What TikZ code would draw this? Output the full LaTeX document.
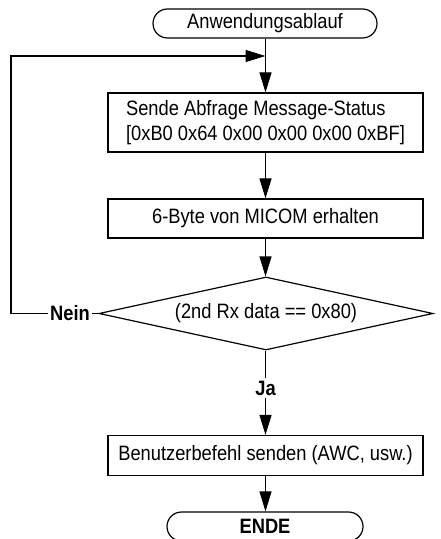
\documentclass[tikz,border=0pt]{standalone}
\usepackage{fontspec}
\setmainfont{Liberation Sans}[FakeStretch=0.88]
\usetikzlibrary{arrows.meta,shapes.geometric,shapes.misc}

\begin{document}
\begin{tikzpicture}[x=0.5pt,y=-0.5pt,line width=0.6pt,
    font=\fontsize{10.4}{12.5}\selectfont,
    term/.style={draw,rounded rectangle,minimum height=14.5pt,inner sep=0pt},
    proc/.style={draw,rectangle,minimum width=157.5pt,inner sep=0pt},
    dec/.style={draw,diamond,aspect=4.58,minimum width=167pt,minimum height=36.5pt,inner sep=0pt},
    lbl/.style={font=\fontsize{10.4}{12.5}\selectfont\bfseries,inner sep=1pt},
    flow/.style={-{Triangle[length=10pt,width=6pt]}}]
    \useasboundingbox (0,0) rectangle (440,539);

    \node[term,minimum width=112pt] (start) at (265,23.5) {Anwendungsablauf};
    \node[proc,minimum height=29.5pt,align=left] (query) at (265.5,122.5)
      {Sende Abfrage Message-Status\\{}[0xB0 0x64 0x00 0x00 0x00 0xBF]};
    \node[proc,minimum height=19.5pt] (recv) at (265.5,218.5) {6-Byte von MICOM erhalten};
    \node[dec] (check) at (266,313.5) {(2nd Rx data == 0x80)};
    \node[lbl] (nein) at (70,313.5) {Nein};
    \node[lbl] (ja) at (265.5,388) {Ja};
    \node[proc,minimum height=20pt] (send) at (265.5,455.5) {Benutzerbefehl senden (AWC, usw.)};
    \node[term,minimum width=98pt,font=\fontsize{10.4}{12.5}\selectfont\bfseries] (stop) at (265,526.5) {ENDE};

    \coordinate (merge) at (265.5,56);
    \coordinate (corner) at (11,56);

    \draw[flow] (start.south -| query.north) -- (query.north);
    \draw[flow] (query) -- (recv);
    \draw[flow] (recv.south) -- (recv.south |- check.north);
    \draw (check.south -| ja.north) -- (ja.north);
    \draw[flow] (ja) -- (send);
    \draw[flow] (send.south) -- (send.south |- stop.north);
    \draw (check.west) -- (nein.east);
    \draw[flow] (nein.west) -| (corner) -- (merge);
  \end{tikzpicture}
\end{document}
